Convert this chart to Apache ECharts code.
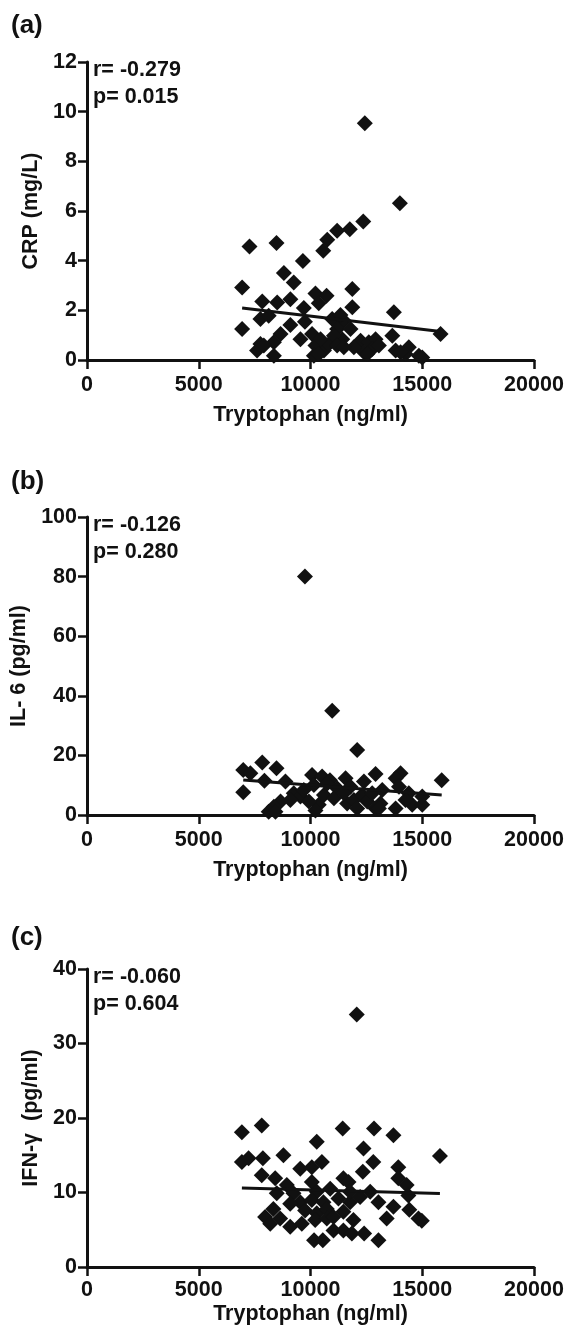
<!DOCTYPE html>
<html>
<head>
<meta charset="utf-8">
<script src="https://cdn.jsdelivr.net/npm/echarts@6/dist/echarts.min.js"></script>
<style>
  html, body { margin: 0; padding: 0; background: #ffffff; }
  #chart { width: 568px; height: 1340px; }
</style>
</head>
<body>
<div id="chart"></div>
<script>
// ---- Data ----
var xTicks = [0, 5000, 10000, 15000, 20000];
var panelLabels = ['(a)', '(b)', '(c)'];
var yNames = ['CRP (mg/L)', 'IL- 6 (pg/ml)', 'IFN-\u03b3  (pg/ml)'];
var xName = 'Tryptophan (ng/ml)';
var statsText = ['r= -0.279\np= 0.015', 'r= -0.126\np= 0.280', 'r= -0.060\np= 0.604'];
var yMax = [12, 100, 40];
var yStep = [2, 20, 10];

// (a) Tryptophan vs CRP
var crpPoints = [
  [12430, 9.53], [14000, 6.31], [12360, 5.58], [11760, 5.27], [11190, 5.20],
  [10750, 4.84], [10570, 4.40], [7270, 4.57], [8480, 4.71], [9660, 3.99],
  [8810, 3.50], [9250, 3.12], [6940, 2.92], [11870, 2.86], [9100, 2.45],
  [7840, 2.36], [8510, 2.32], [10220, 2.68], [10720, 2.59], [10370, 2.29],
  [9700, 2.09], [11870, 2.12], [13730, 1.92], [6940, 1.25], [7760, 1.65],
  [8130, 1.78], [9100, 1.41], [9750, 1.54], [10970, 1.65], [11490, 1.58],
  [11190, 1.25], [11790, 1.25], [11420, 0.84], [10070, 1.05], [8660, 1.05],
  [9550, 0.84], [8360, 0.71], [7760, 0.64], [7610, 0.38], [8360, 0.17],
  [10220, 0.58], [10600, 0.38], [10820, 0.64], [10150, 0.17], [12240, 0.78],
  [12610, 0.71], [12910, 0.84], [12390, 0.31], [12760, 0.44], [11940, 0.51],
  [13660, 0.98], [13810, 0.38], [14400, 0.51], [14250, 0.24], [14850, 0.17],
  [15000, 0.10], [15820, 1.05], [14030, 0.31], [10450, 0.84], [11050, 0.98],
  [10370, 0.24], [11190, 0.58], [11490, 0.51], [13060, 0.58], [12540, 0.24],
  [11340, 1.81], [7910, 0.58]
];
var crpFit = [[6940, 2.09], [15820, 1.15]];

// (b) Tryptophan vs IL-6
var il6Points = [
  [9750, 80.0], [10970, 35.0], [12090, 21.8], [6990, 15.1], [7310, 14.0],
  [7840, 17.6], [8480, 15.7], [7940, 11.5], [6990, 7.6], [8880, 11.2],
  [10070, 13.4], [10520, 12.9], [10870, 11.7], [11570, 12.3], [12910, 13.8],
  [14030, 14.0], [13810, 12.3], [12390, 11.2], [15870, 11.7], [10150, 10.1],
  [11190, 9.0], [11790, 9.5], [9250, 7.3], [9550, 6.2], [9100, 5.0],
  [8660, 4.5], [8360, 2.8], [8130, 1.1], [8430, 1.1], [10370, 3.4],
  [10220, 1.5], [10600, 6.7], [11050, 5.6], [11640, 3.9], [11940, 5.0],
  [12310, 6.7], [12540, 4.5], [12910, 2.2], [13130, 3.9], [13810, 2.2],
  [14400, 7.3], [14550, 3.4], [15000, 3.4], [15000, 6.2], [13960, 9.5],
  [9700, 8.4], [11490, 7.3], [12760, 7.3], [13210, 8.4], [10750, 10.6],
  [9930, 4.5], [12090, 2.2], [14250, 5.0], [13060, 2.2]
];
var il6Fit = [[6990, 11.75], [15870, 6.71]];

// (c) Tryptophan vs IFN-gamma
var ifnPoints = [
  [12070, 33.9], [6930, 18.1], [7820, 19.0], [6930, 14.1], [7230, 14.6],
  [7870, 14.6], [7820, 12.3], [8790, 15.0], [10280, 16.8], [11440, 18.6],
  [12840, 18.6], [13710, 17.7], [12370, 15.9], [15790, 14.9], [12810, 14.1],
  [10510, 14.1], [9540, 13.2], [10060, 13.4], [13930, 13.4], [8420, 11.9],
  [12340, 12.8], [11470, 11.9], [11700, 11.4], [13930, 11.9], [14300, 11.0],
  [10060, 11.4], [8940, 11.0], [8490, 9.9], [9240, 9.9], [10880, 10.5],
  [10280, 10.1], [12670, 10.1], [12220, 9.4], [14380, 9.6], [9540, 8.7],
  [9090, 8.5], [10060, 9.0], [10580, 8.7], [11250, 9.2], [11770, 8.7],
  [13040, 8.7], [13710, 8.1], [8340, 7.8], [9760, 7.6], [10280, 7.2],
  [11470, 7.4], [10730, 7.8], [14420, 7.7], [7970, 6.7], [8640, 6.5],
  [8200, 5.8], [9090, 5.4], [9610, 5.8], [10210, 6.3], [10730, 6.5],
  [11920, 6.3], [13410, 6.5], [14830, 6.5], [14980, 6.2], [11030, 4.9],
  [11470, 4.9], [11850, 4.5], [12400, 4.5], [10160, 3.6], [10550, 3.6],
  [13040, 3.6], [11030, 6.7], [11770, 10.1]
];
var ifnFit = [[6930, 10.61], [15790, 9.85]];

// ---- Chart ----
var FONT = "'Liberation Sans', Arial, Helvetica, sans-serif";
var INK = '#111111';
var FS = 21.5;
var gridTops = [62, 517, 969];
var labelTops = [13, 469, 925];
var xNameGaps = [44, 44, 36];
var xLabelMargins = [14, 14, 12];
var pointsList = [crpPoints, il6Points, ifnPoints];
var fitList = [crpFit, il6Fit, ifnFit];
function plain(v) { return String(v); }

var grids = [], xAxes = [], yAxes = [], series = [], titles = [];
for (var i = 0; i < 3; i++) {
  grids.push({ left: 87, top: gridTops[i], width: 447, height: 298 });
  xAxes.push({
    gridIndex: i, type: 'value', min: xTicks[0], max: xTicks[xTicks.length - 1],
    interval: xTicks[1] - xTicks[0],
    name: xName, nameLocation: 'middle', nameGap: xNameGaps[i],
    nameTextStyle: { fontFamily: FONT, fontSize: FS, fontWeight: 'bold', color: INK },
    axisLine: { show: true, onZero: false, lineStyle: { color: INK, width: 3 } },
    axisTick: { show: true, length: 9, lineStyle: { color: INK, width: 2.5 } },
    axisLabel: { fontFamily: FONT, fontSize: FS, fontWeight: 'bold', color: INK, margin: xLabelMargins[i],
                 showMinLabel: true, showMaxLabel: true, formatter: plain },
    splitLine: { show: false }
  });
  yAxes.push({
    gridIndex: i, type: 'value', min: 0, max: yMax[i], interval: yStep[i],
    name: yNames[i], nameLocation: 'middle', nameGap: 45, nameRotate: 90,
    nameTextStyle: { fontFamily: FONT, fontSize: FS, fontWeight: 'bold', color: INK },
    axisLine: { show: true, onZero: false, lineStyle: { color: INK, width: 3 } },
    axisTick: { show: true, length: 9, lineStyle: { color: INK, width: 2.5 } },
    axisLabel: { fontFamily: FONT, fontSize: FS, fontWeight: 'bold', color: INK, margin: 10,
                 showMinLabel: true, showMaxLabel: true, formatter: plain },
    splitLine: { show: false }
  });
  series.push({
    type: 'scatter', xAxisIndex: i, yAxisIndex: i, data: pointsList[i],
    symbol: 'diamond', symbolSize: 16, itemStyle: { color: INK, opacity: 1 }, z: 3
  });
  series.push({
    type: 'line', xAxisIndex: i, yAxisIndex: i, data: fitList[i],
    symbol: 'none', lineStyle: { color: INK, width: 3 }, z: 4
  });
  titles.push({
    text: panelLabels[i], left: 11, top: labelTops[i], padding: 0,
    textStyle: { fontFamily: FONT, fontSize: 26, fontWeight: 'bold', color: INK }
  });
  titles.push({
    text: statsText[i], left: 93, top: gridTops[i] - 5, padding: 0,
    textStyle: { fontFamily: FONT, fontSize: FS, fontWeight: 'bold', color: INK, lineHeight: 27 }
  });
}

var chart = echarts.init(document.getElementById('chart'), null, { renderer: 'canvas' });
chart.setOption({
  backgroundColor: '#ffffff',
  animation: false,
  title: titles,
  grid: grids,
  xAxis: xAxes,
  yAxis: yAxes,
  series: series
});
</script>
</body>
</html>
